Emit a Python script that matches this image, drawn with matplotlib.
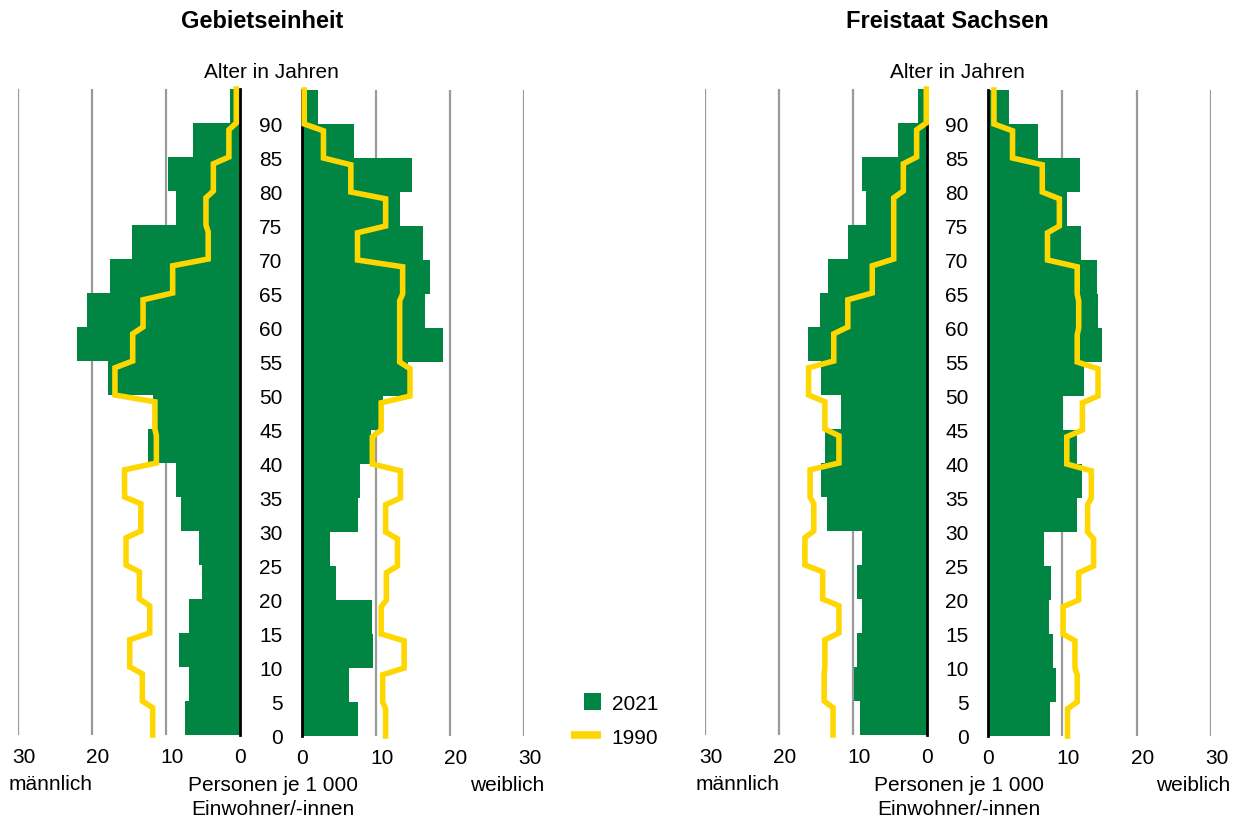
import matplotlib
matplotlib.use("Agg")
import matplotlib.pyplot as plt
from matplotlib.patches import Patch, Rectangle
from matplotlib.lines import Line2D
from matplotlib.legend_handler import HandlerPatch
from matplotlib.transforms import ScaledTranslation

plt.rcParams['font.family'] = ['Liberation Sans', 'DejaVu Sans']

# ---------------- data ----------------
age_start = [0, 5, 10, 15, 20, 25, 30, 35, 40, 45, 50, 55, 60, 65, 70, 75, 80, 85, 90]
age_top = 95
age_ticks = [0, 5, 10, 15, 20, 25, 30, 35, 40, 45, 50, 55, 60, 65, 70, 75, 80, 85, 90]
x_ticks = [0, 10, 20, 30]

# Gebietseinheit
geb_m_2021 = [7.5, 6.9, 8.3, 6.9, 5.2, 5.5, 8.0, 8.7, 12.5, 11.7, 17.9, 22.0, 20.7, 17.6, 14.6, 8.7, 9.7, 6.4, 1.3]
geb_w_2021 = [7.6, 6.3, 9.6, 9.5, 4.6, 3.8, 7.6, 7.9, 9.3, 11.0, 14.3, 19.1, 16.6, 17.3, 16.3, 13.2, 14.8, 7.0, 2.2]
geb_m_1990 = [11.8, 13.2, 14.9, 12.2, 13.6, 15.4, 13.4, 15.6, 11.3, 11.5, 16.9, 14.5, 13.1, 9.1, 4.3, 4.6, 3.6, 1.5, 0.5]
geb_w_1990 = [11.3, 10.9, 13.8, 10.7, 11.4, 12.9, 11.3, 13.3, 9.5, 10.7, 14.6, 13.2, 13.2, 13.6, 7.5, 11.3, 6.6, 2.9, 0.3]

# Freistaat Sachsen
sn_m_2021 = [9.0, 9.8, 9.4, 8.8, 9.5, 8.8, 13.5, 14.3, 13.8, 11.6, 14.3, 16.1, 14.5, 13.4, 10.7, 8.3, 8.8, 3.9, 1.2]
sn_w_2021 = [8.3, 9.1, 8.7, 8.2, 8.5, 7.6, 12.0, 12.6, 12.0, 10.1, 12.9, 15.4, 14.8, 14.7, 12.5, 10.6, 12.4, 6.7, 2.8]
sn_m_1990 = [12.7, 13.9, 13.8, 11.9, 14.1, 16.5, 15.3, 15.8, 11.9, 13.8, 16.0, 12.6, 10.7, 7.4, 4.5, 4.5, 3.2, 1.4, 0.1]
sn_w_1990 = [10.7, 12.0, 11.7, 10.1, 12.2, 14.2, 13.4, 13.9, 10.6, 12.7, 14.8, 12.0, 12.2, 12.0, 8.0, 9.6, 7.3, 3.3, 0.8]

GREEN = '#008542'
YELLOW = '#FFD700'
GRID = '#9a9a9a'
FS = 15

W, H = 1239, 820
fig = plt.figure(figsize=(W / 100, H / 100), dpi=100)


def add_ax(x0, x1, ytop, ybot):
    return fig.add_axes([x0 / W, 1 - ybot / H, (x1 - x0) / W, (ybot - ytop) / H])


def step_line(vals):
    xs, ys = [], []
    n = len(vals)
    for i, (a, v) in enumerate(zip(age_start, vals)):
        lo = a
        hi = a + 4 if i < n - 1 else age_top
        xs += [v, v]
        ys += [lo, hi]
    return xs, ys


def setup(ax, side):
    ax.set_ylim(0, age_top)
    if side == 'm':
        ax.set_xlim(30, 0)
    else:
        ax.set_xlim(0, 30)
    for s in ax.spines.values():
        s.set_visible(False)
    inner = 'right' if side == 'm' else 'left'
    ax.spines[inner].set_visible(True)
    ax.spines[inner].set_color('black')
    ax.spines[inner].set_linewidth(2)
    ax.spines[inner].set_zorder(4)
    ax.set_axisbelow(True)
    ax.xaxis.grid(True, color=GRID, linewidth=1.6)
    ax.set_xticks(x_ticks)
    ax.set_xticklabels([str(t) for t in x_ticks])
    ax.tick_params(axis='x', length=0, pad=9, labelsize=FS)
    off = ScaledTranslation(6 / 100, 0, fig.dpi_scale_trans)
    for tk in ax.xaxis.get_major_ticks():
        if tk.label1.get_text() != '0':
            tk.label1.set_transform(tk.label1.get_transform() + off)
    if side == 'w':
        ax.set_yticks(age_ticks)
        ax.set_yticklabels([str(a) for a in age_ticks])
        ax.tick_params(axis='y', length=0, pad=14, labelsize=FS)
    else:
        ax.set_yticks([])
    ax.patch.set_alpha(0)


def panel(xm0, xm1, xw0, xw1, m21, w21, m90, w90):
    axm = add_ax(xm0, xm1, 90, 736)
    axw = add_ax(xw0, xw1, 91, 737)
    setup(axm, 'm')
    setup(axw, 'w')
    axm.barh(age_start, m21, height=5, align='edge', color=GREEN, zorder=2)
    axw.barh(age_start, w21, height=5, align='edge', color=GREEN, zorder=2)
    xs, ys = step_line(m90)
    axm.plot(xs, ys, color=YELLOW, lw=4, zorder=5, clip_on=False, solid_joinstyle='miter')
    xs, ys = step_line(w90)
    axw.plot(xs, ys, color=YELLOW, lw=4, zorder=5, clip_on=False, solid_joinstyle='miter')
    return axm, axw


panel(18, 240, 302, 524, geb_m_2021, geb_w_2021, geb_m_1990, geb_w_1990)
panel(705, 927, 988, 1211, sn_m_2021, sn_w_2021, sn_m_1990, sn_w_1990)


def ftext(x, y, s, **kw):
    fig.text(x / W, 1 - y / H, s, **kw)


ftext(262, 22, 'Gebietseinheit', ha='center', va='center', fontsize=17, fontweight='bold')
ftext(947, 22, 'Freistaat Sachsen', ha='center', va='center', fontsize=17, fontweight='bold')
for cx in (271, 957):
    ftext(cx, 72, 'Alter in Jahren', ha='center', va='center', fontsize=FS)
for lx, cx, rx in ((9, 273, 544), (696, 959, 1230)):
    ftext(lx, 785, 'männlich', ha='left', va='center', fontsize=FS)
    ftext(cx, 786, 'Personen je 1 000', ha='center', va='center', fontsize=FS)
    ftext(cx, 810, 'Einwohner/-innen', ha='center', va='center', fontsize=FS)
    ftext(rx, 786, 'weiblich', ha='right', va='center', fontsize=FS)


def square_patch(legend, orig_handle, xdescent, ydescent, width, height, fontsize):
    return Rectangle((-xdescent + width - height, -ydescent), height, height)


handles = [Patch(facecolor=GREEN, edgecolor='none'), Line2D([], [], color=YELLOW, lw=5.5, solid_capstyle='butt')]
fig.legend(handles, ['2021', '1990'], loc='upper left',
           bbox_to_anchor=(571 / W, 1 - 694 / H), frameon=False, fontsize=FS,
           handlelength=1.45, handleheight=0.9, handletextpad=0.5, labelspacing=0.7,
           borderpad=0, borderaxespad=0,
           handler_map={Patch: HandlerPatch(patch_func=square_patch)})

fig.savefig('out.png', dpi=100)
